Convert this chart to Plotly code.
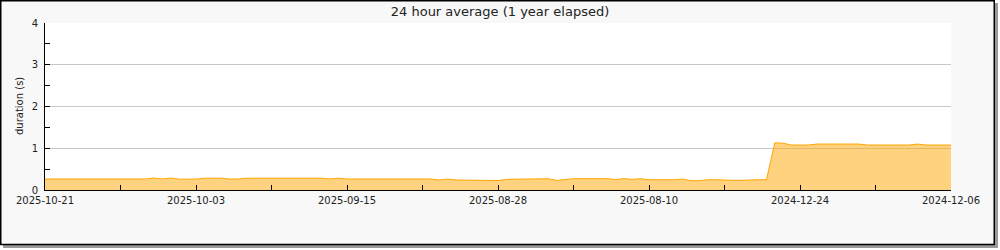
import plotly.graph_objects as go

# x tick labels (one every 18 data points, 109 points in total)
tick_labels = ["2025-10-21", "2025-10-03", "2025-09-15", "2025-08-28",
               "2025-08-10", "2024-12-24", "2024-12-06"]

# 24-hour average duration (s), one value per day, newest first
durations = [
    0.263, 0.263, 0.263, 0.263, 0.263, 0.263, 0.263, 0.263, 0.263, 0.263,
    0.263, 0.263, 0.263, 0.287, 0.263, 0.287, 0.260, 0.260, 0.260, 0.283,
    0.283, 0.283, 0.263, 0.263, 0.283, 0.283, 0.283, 0.283, 0.283, 0.283,
    0.283, 0.283, 0.283, 0.283, 0.263, 0.283, 0.263, 0.263, 0.263, 0.263,
    0.263, 0.263, 0.263, 0.263, 0.263, 0.263, 0.263, 0.240, 0.263, 0.240,
    0.240, 0.240, 0.240, 0.240, 0.225, 0.255, 0.255, 0.255, 0.270, 0.255,
    0.270, 0.230, 0.255, 0.271, 0.271, 0.271, 0.271, 0.271, 0.250, 0.271,
    0.255, 0.271, 0.247, 0.247, 0.231, 0.247, 0.263, 0.223, 0.223, 0.247,
    0.247, 0.231, 0.231, 0.231, 0.247, 0.247, 0.247, 1.130, 1.120, 1.077,
    1.077, 1.077, 1.100, 1.100, 1.100, 1.100, 1.100, 1.100, 1.077, 1.077,
    1.077, 1.077, 1.077, 1.077, 1.100, 1.077, 1.077, 1.077, 1.077,
]

x_idx = list(range(len(durations)))
step = (len(durations) - 1) // (len(tick_labels) - 1)
tick_pos = [i * step for i in range(len(tick_labels))]

W, H = 1000, 250
L, R, T, B = 45, 49, 23, 60
pw, ph = W - L - R, H - T - B

def px(xp):
    return (xp - L) / pw

def py(yp):
    return (H - B - yp) / ph

fig = go.Figure()
fig.add_trace(go.Scatter(
    x=x_idx, y=durations, mode="lines",
    line=dict(color="#ffa500", width=1),
    fill="tozeroy", fillcolor="rgba(255,165,0,0.5)",
    hoverinfo="skip", showlegend=False,
))

shapes = [
    # shadow
    dict(type="rect", xref="paper", yref="paper", layer="below",
         x0=px(3), x1=px(998), y0=py(3), y1=py(248),
         fillcolor="#9a9a9a", line=dict(width=0)),
    # frame
    dict(type="rect", xref="paper", yref="paper", layer="below",
         x0=px(0.75), x1=px(994.25), y0=py(0.75), y1=py(244.5),
         fillcolor="#f8f8f8", line=dict(color="black", width=1.5)),
    # plot area
    dict(type="rect", xref="paper", yref="paper", layer="below",
         x0=0, x1=1, y0=0, y1=1,
         fillcolor="white", line=dict(width=0)),
]

fig.update_layout(
    width=W, height=H,
    margin=dict(l=L, r=R, t=T, b=B, pad=0),
    paper_bgcolor="white", plot_bgcolor="white",
    font=dict(family="DejaVu Sans", size=10, color="#222"),
    title=dict(text="24 hour average (1 year elapsed)", x=0.5, xref="container",
               xanchor="center", y=1 - 11 / H, yref="container", yanchor="middle",
               font=dict(family="DejaVu Sans", size=13, color="#222")),
    shapes=shapes,
    annotations=[dict(text="duration (s)", textangle=-90, xref="paper", yref="paper",
                      x=px(19.5), y=0.5, xanchor="center", yanchor="middle",
                      showarrow=False, font=dict(family="DejaVu Sans", size=10, color="#222"))],
    xaxis=dict(range=[0, len(durations) - 1], tickmode="array", tickvals=tick_pos,
               ticktext=tick_labels, ticks="inside", ticklen=5, tickcolor="black",
               showline=True, linecolor="black", linewidth=1, showgrid=False,
               zeroline=False, fixedrange=True, ticklabelstandoff=1,
               minor=dict(ticks="inside", ticklen=5, tickcolor="black",
                          tickmode="linear", tick0=0, dtick=step / 2, showgrid=False)),
    yaxis=dict(range=[0, 4], tickmode="linear", tick0=0, dtick=1, ticks="inside",
               ticklen=5, tickcolor="black", showline=True, linecolor="black",
               linewidth=1, showgrid=True, gridcolor="#c8c8c8", gridwidth=1,
               zeroline=False, fixedrange=True, ticklabelstandoff=4,
               minor=dict(ticks="inside", ticklen=5, tickcolor="black",
                          dtick=0.5, showgrid=False)),
)

fig.write_html("out.html", config={"displayModeBar": False})
